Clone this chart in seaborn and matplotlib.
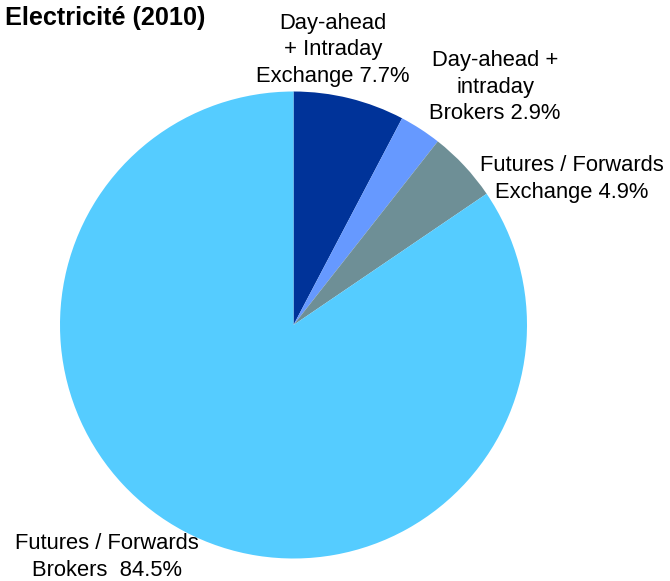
import matplotlib
matplotlib.use("Agg")
import matplotlib.pyplot as plt
import seaborn as sns

sns.set_theme(style="white")
plt.rcParams['font.family'] = ['Liberation Sans', 'DejaVu Sans']
plt.rcParams['text.color'] = 'black'

categories = ["Day-ahead + Intraday Exchange", "Day-ahead + intraday Brokers",
              "Futures / Forwards Exchange", "Futures / Forwards Brokers"]
values = [7.7, 2.9, 4.9, 84.5]
colors = ["#003399", "#6699FF", "#6E8F96", "#55CCFF"]
labels = ["Day-ahead\n+ Intraday\nExchange 7.7%",
          "Day-ahead +\nintraday\nBrokers 2.9%",
          "Futures / Forwards\nExchange 4.9%",
          "Futures / Forwards\nBrokers  84.5%"]

W, H = 670, 581
fig = plt.figure(figsize=(W / 100, H / 100), dpi=100)
ax = fig.add_axes([0, 0, 1, 1])
ax.set_xlim(0, W)
ax.set_ylim(0, H)
ax.set_aspect('equal')
ax.axis('off')

cx, cy, r = 293.5, H - 325, 233.5
ax.pie(values, colors=colors, startangle=90, counterclock=False,
       center=(cx, cy), radius=r, wedgeprops=dict(linewidth=0))
ax.set_xlim(0, W)
ax.set_ylim(0, H)

fs = 15.8
ls = 1.32
ax.text(333, H - 50, labels[0], ha='center', va='center', fontsize=fs, linespacing=ls, color='black')
ax.text(495, H - 87, labels[1], ha='center', va='center', fontsize=fs, linespacing=ls, color='black')
ax.text(572, H - 179, labels[2], ha='center', va='center', fontsize=fs, linespacing=ls, color='black')
ax.text(107, H - 557, labels[3], ha='center', va='center', fontsize=fs, linespacing=ls, color='black')

ax.text(5, H - 18, "Electricité (2010)", ha='left', va='center', fontsize=18.2,
        fontweight='bold', color='black')

fig.savefig("out.png", dpi=100)
